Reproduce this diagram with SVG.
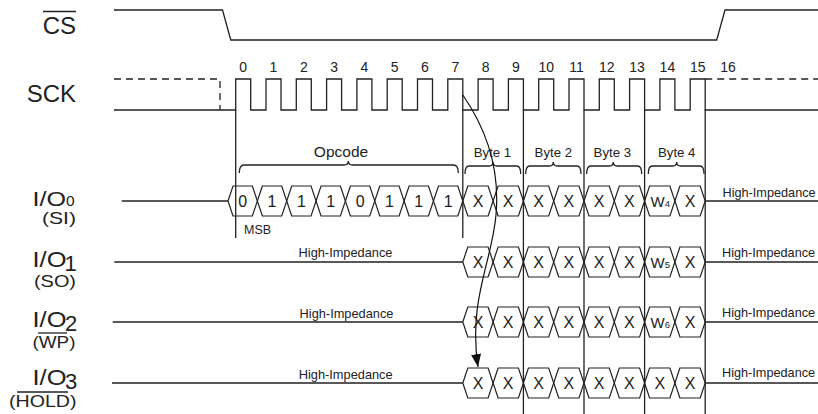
<svg xmlns="http://www.w3.org/2000/svg" xmlns:xlink="http://www.w3.org/1999/xlink" width="818" height="414" viewBox="0 0 818 414">
<style>
text{font-family:"Liberation Sans",Arial,sans-serif;fill:#222}
.w{fill:none;stroke:#222;stroke-width:1.3}
.d{fill:none;stroke:#222;stroke-width:1.3;stroke-dasharray:7 5}
.hx{fill:none;stroke:#222;stroke-width:1.2}
.c{font-size:16px;text-anchor:middle}
.n{font-size:14px;text-anchor:middle}
.hi{font-size:12.7px}
.hm{font-size:12.8px;text-anchor:middle}
.b{font-size:13.2px;text-anchor:middle}
.lab{text-anchor:end}
</style>
<defs>
<polygon id="hA" class="hx" points="0,15 5,0 24.35,0 29.35,15 24.35,30 5,30"/>
<polygon id="hB" class="hx" points="0,15 5,0 25.3,0 30.3,15 25.3,30 5,30"/>
<marker id="ah" markerWidth="13" markerHeight="10" refX="13" refY="5" orient="auto" markerUnits="userSpaceOnUse"><path d="M0,0 L13,5 L0,10 Z" fill="#111"/></marker>
</defs>

<g id="cs">
<text class="lab" x="76" y="34" font-size="24">CS</text>
<path class="w" d="M43,11.5 H76"/>
<path class="w" d="M114,10 H222.5 L230.8,40 H716.7 L725,10 H818"/>
</g>

<g id="sck">
<text class="lab" x="76" y="102" font-size="24">SCK</text>
<path class="d" d="M114,79 H220 V110"/>
<path class="d" d="M705.2,79 H818"/>
<path class="w" d="M114,110 H235.7 V79 H250.7 V110 H266 V79 H281 V110 H296.3 V79 H311.3 V110 H326.6 V79 H341.6 V110 H356.9 V79 H371.9 V110 H387.2 V79 H402.2 V110 H417.5 V79 H432.5 V110 H447.8 V79 H462.8 V110 H478.1 V79 H493.1 V110 H508.4 V79 H523.4 V110 H538.7 V79 H553.7 V110 H569 V79 H584 V110 H599.3 V79 H614.3 V110 H629.6 V79 H644.6 V110 H659.9 V79 H674.9 V110 H690.2 V79 H705.2 V110 H818"/>
<g class="n">
<text x="243.2" y="72">0</text><text x="273.5" y="72">1</text><text x="303.8" y="72">2</text><text x="334.1" y="72">3</text><text x="364.4" y="72">4</text><text x="394.7" y="72">5</text><text x="425" y="72">6</text><text x="455.3" y="72">7</text><text x="485.6" y="72">8</text><text x="515.9" y="72">9</text><text x="546.2" y="72">10</text><text x="576.5" y="72">11</text><text x="606.8" y="72">12</text><text x="637.1" y="72">13</text><text x="667.4" y="72">14</text><text x="697.7" y="72">15</text><text x="728" y="72">16</text>
</g>
<path class="w" d="M235.7,110 V238 M462.8,110 V238 M523.4,110 V414 M584,110 V414 M644.6,110 V414 M705.2,110 V414"/>
</g>

<g id="fields">
<text x="341" y="157" font-size="15.5" text-anchor="middle">Opcode</text>
<path class="w" d="M239.3,173 Q239.3,165 244,165 H344 Q348.3,165 348.3,161 Q348.3,165 352.6,165 H453.5 Q458.3,165 458.3,173"/>
<text class="b" x="492.5" y="157">Byte 1</text>
<text class="b" x="553.3" y="157">Byte 2</text>
<text class="b" x="612.3" y="157">Byte 3</text>
<text class="b" x="676.7" y="157">Byte 4</text>
<path class="w" d="M465,174 Q465,166 469,166 H489 Q493,166 493,162 Q493,166 497,166 H516.7 Q520.7,166 520.7,174"/>
<path class="w" d="M525.7,174 Q525.7,166 529.7,166 H549.3 Q553.3,166 553.3,162 Q553.3,166 557.3,166 H577 Q581,166 581,174"/>
<path class="w" d="M586.7,174 Q586.7,166 590.7,166 H609.3 Q613.3,166 613.3,162 Q613.3,166 617.3,166 H637.7 Q641.7,166 641.7,174"/>
<path class="w" d="M648.3,174 Q648.3,166 652.3,166 H672.7 Q676.7,166 676.7,162 Q676.7,166 680.7,166 H700 Q704,166 704,174"/>
</g>

<g id="io0">
<text x="32.5" y="206" font-size="20" textLength="33.5" lengthAdjust="spacingAndGlyphs">I/O</text>
<text x="66" y="206" font-size="15.5">0</text>
<text x="42" y="224" font-size="16.5" textLength="34" lengthAdjust="spacingAndGlyphs">(SI)</text>
<path class="w" d="M121.7,201 H228 M705.2,201 H818"/>
<use xlink:href="#hA" x="228" y="186"/><use xlink:href="#hA" x="257.35" y="186"/><use xlink:href="#hA" x="286.7" y="186"/><use xlink:href="#hA" x="316.05" y="186"/><use xlink:href="#hA" x="345.4" y="186"/><use xlink:href="#hA" x="374.75" y="186"/><use xlink:href="#hA" x="404.1" y="186"/><use xlink:href="#hA" x="433.45" y="186"/>
<use xlink:href="#hB" x="462.8" y="186"/><use xlink:href="#hB" x="493.1" y="186"/><use xlink:href="#hB" x="523.4" y="186"/><use xlink:href="#hB" x="553.7" y="186"/><use xlink:href="#hB" x="584" y="186"/><use xlink:href="#hB" x="614.3" y="186"/><use xlink:href="#hB" x="644.6" y="186"/><use xlink:href="#hB" x="674.9" y="186"/>
<g class="c">
<text x="242.7" y="206.7">0</text><text x="272" y="206.7">1</text><text x="301.4" y="206.7">1</text><text x="330.7" y="206.7">1</text><text x="360.1" y="206.7">0</text><text x="389.4" y="206.7">1</text><text x="418.8" y="206.7">1</text><text x="448.1" y="206.7">1</text>
<text x="478" y="206.7">X</text><text x="508.2" y="206.7">X</text><text x="538.6" y="206.7">X</text><text x="568.9" y="206.7">X</text><text x="599.2" y="206.7">X</text><text x="629.4" y="206.7">X</text><text x="660.3" y="206.7" font-size="15">W<tspan font-size="9.5">4</tspan></text><text x="690.1" y="206.7">X</text>
</g>
<text x="244" y="234" font-size="12.5">MSB</text>
<text class="hi" x="722.5" y="196.7">High-Impedance</text>
</g>

<g id="io1">
<text x="32.5" y="266.5" font-size="22" textLength="34" lengthAdjust="spacingAndGlyphs">I/O</text>
<text x="64.5" y="271" font-size="22">1</text>
<text x="34" y="286.5" font-size="17" textLength="42" lengthAdjust="spacingAndGlyphs">(SO)</text>
<path class="w" d="M114.3,262 H462.8 M705.2,262 H818"/>
<text class="hm" x="345.5" y="257.3">High-Impedance</text>
<use xlink:href="#hB" x="462.8" y="247"/><use xlink:href="#hB" x="493.1" y="247"/><use xlink:href="#hB" x="523.4" y="247"/><use xlink:href="#hB" x="553.7" y="247"/><use xlink:href="#hB" x="584" y="247"/><use xlink:href="#hB" x="614.3" y="247"/><use xlink:href="#hB" x="644.6" y="247"/><use xlink:href="#hB" x="674.9" y="247"/>
<g class="c">
<text x="478" y="267.7">X</text><text x="508.2" y="267.7">X</text><text x="538.6" y="267.7">X</text><text x="568.9" y="267.7">X</text><text x="599.2" y="267.7">X</text><text x="629.4" y="267.7">X</text><text x="660.3" y="267.7" font-size="15">W<tspan font-size="9.5">5</tspan></text><text x="690.1" y="267.7">X</text>
</g>
<text class="hi" x="722" y="257.3">High-Impedance</text>
</g>

<g id="io2">
<text x="32.5" y="327" font-size="22" textLength="34" lengthAdjust="spacingAndGlyphs">I/O</text>
<text x="65" y="331" font-size="22">2</text>
<text x="32.5" y="347.5" font-size="16.5" textLength="43" lengthAdjust="spacingAndGlyphs">(WP)</text>
<path class="w" d="M38,333 H67"/>
<path class="w" d="M112.7,322 H462.8 M705.2,322 H818"/>
<text class="hm" x="346.5" y="318.3">High-Impedance</text>
<use xlink:href="#hB" x="462.8" y="307"/><use xlink:href="#hB" x="493.1" y="307"/><use xlink:href="#hB" x="523.4" y="307"/><use xlink:href="#hB" x="553.7" y="307"/><use xlink:href="#hB" x="584" y="307"/><use xlink:href="#hB" x="614.3" y="307"/><use xlink:href="#hB" x="644.6" y="307"/><use xlink:href="#hB" x="674.9" y="307"/>
<g class="c">
<text x="478" y="327.7">X</text><text x="508.2" y="327.7">X</text><text x="538.6" y="327.7">X</text><text x="568.9" y="327.7">X</text><text x="599.2" y="327.7">X</text><text x="629.4" y="327.7">X</text><text x="660.3" y="327.7" font-size="15">W<tspan font-size="9.5">6</tspan></text><text x="690.1" y="327.7">X</text>
</g>
<text class="hi" x="722" y="317.3">High-Impedance</text>
</g>

<g id="io3">
<text x="32.5" y="385" font-size="22" textLength="34" lengthAdjust="spacingAndGlyphs">I/O</text>
<text x="65" y="389" font-size="22">3</text>
<text x="9" y="407" font-size="17" textLength="67.5" lengthAdjust="spacingAndGlyphs">(HOLD)</text>
<path class="w" d="M17,392 H68"/>
<path class="w" d="M112,383 H462.8 M705.2,383 H818"/>
<text class="hm" x="345.7" y="379.3">High-Impedance</text>
<use xlink:href="#hB" x="462.8" y="368"/><use xlink:href="#hB" x="493.1" y="368"/><use xlink:href="#hB" x="523.4" y="368"/><use xlink:href="#hB" x="553.7" y="368"/><use xlink:href="#hB" x="584" y="368"/><use xlink:href="#hB" x="614.3" y="368"/><use xlink:href="#hB" x="644.6" y="368"/><use xlink:href="#hB" x="674.9" y="368"/>
<g class="c">
<text x="478" y="388.7">X</text><text x="508.2" y="388.7">X</text><text x="538.6" y="388.7">X</text><text x="568.9" y="388.7">X</text><text x="599.2" y="388.7">X</text><text x="629.4" y="388.7">X</text><text x="659.8" y="388.7">X</text><text x="690.1" y="388.7">X</text>
</g>
<text class="hi" x="722" y="377.3">High-Impedance</text>
</g>

<g id="connectors">
<path fill="none" stroke="#111" stroke-width="1.2" d="M462.8,95 C487,130 500,170 496,215 C492,262 468,300 478,367" marker-end="url(#ah)"/>
</g>
</svg>
